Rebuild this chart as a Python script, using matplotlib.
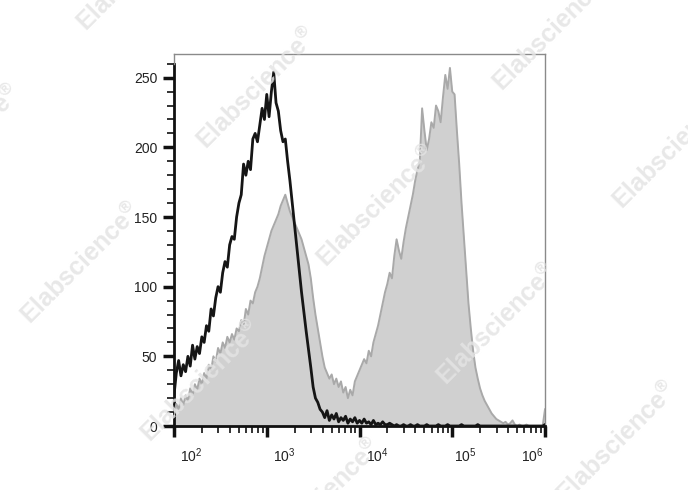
import numpy as np
import matplotlib
matplotlib.use('Agg')
import matplotlib.pyplot as plt
from matplotlib.ticker import LogLocator, MultipleLocator, NullFormatter
from matplotlib.transforms import ScaledTranslation

plt.rcParams['font.family'] = ['Liberation Sans', 'DejaVu Sans']
plt.rcParams['mathtext.default'] = 'regular'

# channel positions: 161 bins evenly spaced in log10 from 10^2 to 10^6
log_channels = np.linspace(2, 6, 161)

# control (black line) counts per channel
control_counts = [
    22, 38, 47, 36, 44, 39, 50, 43, 58, 48,
    57, 52, 64, 60, 72, 68, 84, 79, 92, 100,
    96, 110, 118, 114, 130, 136, 134, 150, 160, 166,
    188, 180, 190, 184, 206, 210, 204, 216, 228, 220,
    238, 222, 240, 254, 232, 226, 212, 204, 206, 190,
    176, 160, 144, 128, 112, 96, 82, 68, 55, 42,
    28, 20, 17, 12, 10, 6, 11, 4, 8, 5,
    9, 3, 6, 4, 7, 2, 5, 3, 6, 2,
    4, 2, 5, 2, 3, 1, 4, 1, 2, 1,
    3, 1, 1, 2, 1,
    0, 1, 0, 0, 1, 0, 0, 1, 0, 0,
    1, 0, 0, 0, 1, 0, 0, 0, 0, 1,
    0, 0, 0, 1, 0, 0, 0, 0, 0, 1,
    0, 0, 0, 0, 0, 0, 1, 0, 0, 0,
    0, 0, 0, 0, 0, 0, 0, 0, 0, 0,
    0, 0, 0, 0, 0, 0, 0, 0, 0, 0,
    0, 0, 0, 0, 0, 1,
]

# stained sample (grey filled) counts per channel
stained_counts = [
    8, 16, 12, 20, 15, 22, 18, 27, 22, 30,
    26, 34, 30, 38, 34, 44, 40, 50, 46, 56,
    52, 60, 56, 64, 60, 66, 62, 70, 68, 76,
    72, 84, 80, 90, 88, 96, 100, 106, 114, 122,
    128, 134, 140, 144, 148, 152, 158, 162, 166, 160,
    154, 150, 146, 142, 138, 134, 128, 122, 116, 106,
    92, 80, 70, 60, 50, 42, 38, 34, 37, 30,
    34, 28, 32, 24, 28, 20, 26, 22, 32, 36,
    40, 44, 48, 45, 54, 50, 60, 66, 72, 80,
    88, 96, 102, 110, 106, 122, 134, 126, 120, 132,
    142, 150, 158, 166, 176, 184, 190, 228, 212, 198,
    206, 218, 214, 230, 226, 218, 236, 252, 242, 257,
    240, 238, 212, 188, 160, 136, 112, 88, 70, 54,
    42, 34, 27, 22, 18, 15, 12, 9, 7, 5,
    4, 3, 2, 3, 1, 2, 4, 1, 0, 1,
    0, 0, 1, 0, 0, 0, 0, 0, 0, 0,
    12,
]

y_major = [0, 50, 100, 150, 200, 250]
x_major = [1e2, 1e3, 1e4, 1e5, 1e6]
x_labels = ['$10^{2}$', '$10^{3}$', '$10^{4}$', '$10^{5}$', '$10^{6}$']

channels = 10 ** log_channels

fig = plt.figure(figsize=(6.88, 4.90), dpi=100)
ax = fig.add_axes([174 / 688, 64 / 490, 371 / 688, 372 / 490])

ax.fill_between(channels, stained_counts, 0, color='#d0d0d0', lw=0, zorder=1)
ax.plot(channels, stained_counts, color='#a9a9a9', lw=1.4, zorder=3)
ax.plot(channels, control_counts, color='#151515', lw=2.0, zorder=4)

ax.set_xscale('log')
ax.set_xlim(1e2, 1e6)
ax.set_ylim(0, 267)

# frame: grey top/right, black left/bottom axes
for side in ['top', 'right']:
    ax.spines[side].set_color('#8a8a8a')
    ax.spines[side].set_linewidth(1.0)
for side in ['left', 'bottom']:
    ax.spines[side].set_color('#111111')
    ax.spines[side].set_linewidth(2.0)
ax.spines['left'].set_bounds(0, 260)
ax.plot([1e2, 1e2], [260, 267], color='#8a8a8a', lw=1.0, clip_on=False, zorder=5)

ax.set_yticks(y_major)
ax.yaxis.set_minor_locator(MultipleLocator(10))
ax.set_xticks(x_major)
ax.set_xticklabels(x_labels)
ax.xaxis.set_minor_locator(LogLocator(base=10, subs=np.arange(2, 10), numticks=20))
ax.xaxis.set_minor_formatter(NullFormatter())

ax.tick_params(which='major', direction='out', length=8, width=2.5, color='#111111',
               labelsize=10, labelcolor='#222222')
ax.tick_params(which='minor', direction='out', length=5, width=1.2, color='#111111')
ax.tick_params(axis='y', which='major', pad=4)
ax.tick_params(axis='x', which='major', pad=7)

# FlowJo-like label placement: exponents sit to the right of the tick
shifts = [6, 6, 6, 2, -1]
for lab, dx in zip(ax.get_xticklabels(), shifts):
    if dx < 0:
        lab.set_ha('right')
    else:
        lab.set_ha('left')
    lab.set_transform(lab.get_transform() + ScaledTranslation(dx / 100, 0, fig.dpi_scale_trans))

# watermarks (partly off the image edges, as in the source picture)
marks = [(137, -30), (257, 88), (377, 206), (497, 324), (617, 442),
         (-39, 145), (81, 263), (201, 381), (321, 499),
         (553, 30), (673, 148)]
for mx, my in marks:
    fig.text(mx / 688, 1 - my / 490, 'Elabscience$^{®}$', rotation=45,
             rotation_mode='anchor', ha='center', va='center',
             fontsize=18, fontweight='bold', color='#e4e4e4', alpha=0.85, zorder=2)

fig.savefig('out.png', dpi=100)
